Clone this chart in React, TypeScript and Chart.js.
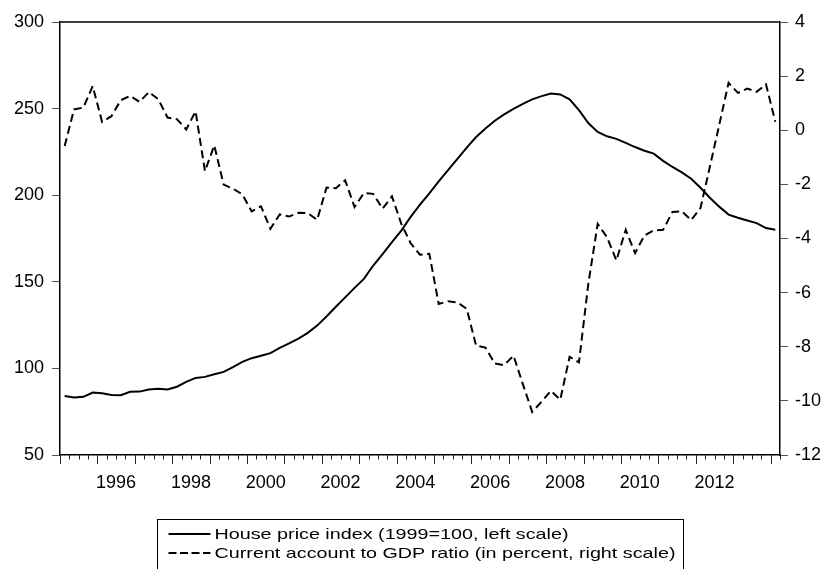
import React, { useEffect, useRef } from 'react';
import { Chart, registerables } from 'chart.js';

Chart.register(...registerables);

// Quarterly observations, 1995Q1 .. 2014Q1
const FIRST_YEAR = 1995;
const yearTickLabels = [1996, 1998, 2000, 2002, 2004, 2006, 2008, 2010, 2012];

const houseLabel = 'House price index (1999=100, left scale)';
const caLabel = 'Current account to GDP ratio (in percent, right scale)';

const housePrice = [
  84.1, 83.2, 83.6, 86.1, 85.7, 84.7, 84.5, 86.5, 86.6, 87.8,
  88.2, 87.8, 89.4, 92.2, 94.5, 95.1, 96.6, 98.0, 100.7, 103.8,
  105.9, 107.3, 108.8, 111.8, 114.4, 117.2, 120.5, 124.7, 130.0, 135.6,
  141.0, 146.5, 151.7, 159.4, 166.0, 172.9, 179.6, 187.5, 194.5, 201.0,
  208.0, 214.5, 221.0, 227.5, 233.6, 238.5, 243.0, 246.7, 249.8, 252.7,
  255.3, 257.2, 258.7, 258.2, 255.4, 249.1, 241.7, 236.5, 234.0, 232.5,
  230.2, 227.8, 225.7, 224.0, 219.8, 216.3, 213.2, 209.5, 204.3, 198.5,
  193.4, 188.8, 187.0, 185.4, 183.9, 181.0, 180.0,
];

const currentAccount = [
  -0.58, 0.77, 0.84, 1.63, 0.31, 0.52, 1.11, 1.27, 1.05, 1.41,
  1.15, 0.47, 0.41, 0.03, 0.70, -1.51, -0.56, -2.01, -2.16, -2.37,
  -3.0, -2.81, -3.64, -3.11, -3.19, -3.05, -3.06, -3.31, -2.12, -2.14,
  -1.85, -2.84, -2.32, -2.35, -2.90, -2.44, -3.46, -4.17, -4.6, -4.57,
  -6.42, -6.32, -6.36, -6.6, -7.96, -8.03, -8.62, -8.68, -8.33, -9.38,
  -10.41, -10.03, -9.63, -9.96, -8.37, -8.58, -5.68, -3.46, -3.95, -4.81,
  -3.68, -4.54, -3.89, -3.70, -3.68, -3.02, -2.99, -3.32, -2.87, -1.35,
  0.2, 1.75, 1.38, 1.54, 1.42, 1.70, 0.31,
];

const leftMin = 50;
const leftMax = 300;
const leftStep = 50;
const rightMin = -12;
const rightMax = 4;
const rightStep = 2;

const QUARTERS = housePrice.length;
const FONT_FAMILY = '"Liberation Sans", Arial, Helvetica, sans-serif';

const framePlugin = {
  id: 'evFrame',
  afterDraw(chart: any) {
    const { ctx, chartArea, scales } = chart;
    const xs = scales.x;
    ctx.save();
    // top border
    ctx.strokeStyle = '#000';
    ctx.lineWidth = 1.5;
    ctx.beginPath();
    ctx.moveTo(chartArea.left, chartArea.top);
    ctx.lineTo(chartArea.right, chartArea.top);
    ctx.stroke();

    // quarterly tick marks on x axis (longer at year boundaries)
    ctx.lineWidth = 1;
    ctx.strokeStyle = '#222';
    for (let q = 0; q <= QUARTERS; q++) {
      const px = Math.round(xs.getPixelForValue(q)) + 0.5;
      const len = q % 4 === 0 ? 9 : 4.5;
      ctx.beginPath();
      ctx.moveTo(px, chartArea.bottom);
      ctx.lineTo(px, chartArea.bottom + len);
      ctx.stroke();
    }

    // legend box (cut by the bottom of the picture)
    ctx.font = '15px ' + FONT_FAMILY;
    const labels = chart.data.datasets.map((d: any) => d.label as string);
    const textW = Math.max(...labels.map((l: string) => ctx.measureText(l).width));
    const boxW = 526;
    const padL = 11, sampleW = 42, gap = 4, padR = 8;
    const sx = (boxW - padL - sampleW - gap - padR) / textW;
    const cx = (chartArea.left + chartArea.right) / 2;
    const boxL = Math.round(cx - boxW / 2) + 0.5;
    const boxT = Math.round(chartArea.bottom + 64) + 0.5;
    ctx.lineWidth = 1;
    ctx.strokeStyle = '#000';
    ctx.strokeRect(boxL, boxT, boxW, 120);

    ctx.fillStyle = '#000';
    ctx.textBaseline = 'middle';
    ctx.textAlign = 'left';
    chart.data.datasets.forEach((d: any, i: number) => {
      const y = boxT + 14.5 + i * 19;
      ctx.save();
      ctx.lineWidth = 2;
      ctx.setLineDash(i === 0 ? [] : [8, 3.5]);
      ctx.beginPath();
      ctx.moveTo(boxL + padL, y);
      ctx.lineTo(boxL + padL + sampleW, y);
      ctx.stroke();
      ctx.restore();
      ctx.save();
      ctx.translate(boxL + padL + sampleW + gap, y + 1);
      ctx.scale(sx, 1);
      ctx.fillText(d.label, 0, 0);
      ctx.restore();
    });
    ctx.restore();
  },
};

export default function App() {
  const ref = useRef<HTMLCanvasElement>(null);

  useEffect(() => {
    const canvas = ref.current;
    if (!canvas) return;
    const tickFont = { family: FONT_FAMILY, size: 18 };
    const chart = new Chart(canvas, {
      type: 'line',
      data: {
        datasets: [
          {
            label: houseLabel,
            data: housePrice.map((v, i) => ({ x: i + 0.5, y: v })),
            yAxisID: 'yLeft',
            borderColor: '#000',
            borderWidth: 2,
            pointRadius: 0,
            tension: 0,
            fill: false,
          },
          {
            label: caLabel,
            data: currentAccount.map((v, i) => ({ x: i + 0.5, y: v })),
            yAxisID: 'yRight',
            borderColor: '#000',
            borderWidth: 2,
            borderDash: [8, 4.5],
            pointRadius: 0,
            tension: 0,
            fill: false,
          },
        ],
      },
      options: {
        responsive: false,
        animation: false,
        devicePixelRatio: 1,
        layout: { padding: { top: 22, left: 0, right: 0, bottom: 0 } },
        plugins: { legend: { display: false }, tooltip: { enabled: false } },
        scales: {
          x: {
            type: 'linear',
            position: 'bottom',
            min: 0,
            max: QUARTERS,
            grid: { display: false },
            border: { display: true, color: '#000', width: 1.5 },
            ticks: {
              font: tickFont,
              color: '#000',
              padding: 9,
              autoSkip: false,
              maxRotation: 0,
              callback: (v: any) => String(FIRST_YEAR + (Number(v) - 2) / 4),
            },
            afterBuildTicks: (s: any) => {
              s.ticks = yearTickLabels.map((y) => ({ value: (y - FIRST_YEAR) * 4 + 2 }));
            },
            afterFit: (s: any) => {
              s.height = 114;
            },
          },
          yLeft: {
            type: 'linear',
            position: 'left',
            min: leftMin,
            max: leftMax,
            ticks: { stepSize: leftStep, font: tickFont, color: '#000', padding: 8 },
            grid: { drawOnChartArea: false, tickLength: 8, color: '#555' },
            border: { display: true, color: '#000', width: 1.5 },
            afterFit: (s: any) => {
              s.width = 60;
            },
          },
          yRight: {
            type: 'linear',
            position: 'right',
            min: rightMin,
            max: rightMax,
            ticks: { stepSize: rightStep, font: tickFont, color: '#000', padding: 7 },
            grid: { drawOnChartArea: false, tickLength: 8, color: '#555' },
            border: { display: true, color: '#000', width: 1.5 },
            afterFit: (s: any) => {
              s.width = 47;
            },
          },
        },
      },
      plugins: [framePlugin],
    } as any);
    return () => chart.destroy();
  }, []);

  return (
    <div style={{ position: 'absolute', left: 0, top: 0, width: 827, height: 569, background: '#fff' }}>
      <canvas ref={ref} width={827} height={569} style={{ display: 'block' }} />
    </div>
  );
}
